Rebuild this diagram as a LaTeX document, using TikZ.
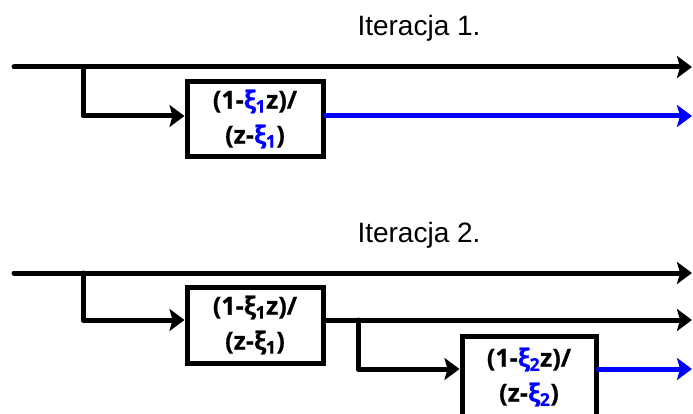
\documentclass[tikz,border=0pt]{standalone}
\usepackage{fontspec}
\setmainfont{Liberation Sans}
\newfontfamily\boxfont[BoldFeatures={FakeBold=0.6}]{Open Sans}
\usetikzlibrary{arrows.meta}
\definecolor{xiblue}{RGB}{0,0,255}
\newcommand{\xisub}[1]{ξ\kern-0.5pt\textsubscript{#1}}
\tikzset{
  wire/.style={line width=5pt, line cap=round, line join=round},
  arr/.style={wire, -{Stealth[length=15pt, width=22pt, inset=3pt]}},
  blk/.style={draw, line width=5pt, minimum width=136pt, align=center,
    font=\boxfont\bfseries\fontsize{25}{35}\selectfont, inner sep=0pt},
  title/.style={font=\fontsize{28}{30}\selectfont}
}
\begin{document}
\begin{tikzpicture}[x=1pt, y=-1pt]
\useasboundingbox (0,0) rectangle (693,414);
% outputs at the right edge
\coordinate (outx) at (692,0);

% first iteration
\node[title] (t1) at (419,28) {Iteracja 1.};
\coordinate (in1) at (14,67);
\coordinate (j1) at (83,67);
\node[blk, minimum height=75pt] (b1) at (255,119)
  {(1-\textcolor{xiblue}{\xisub{1}}z)/\\(z-\textcolor{xiblue}{\xisub{1}})};
\draw[arr] (in1) -- (in1 -| outx);
\draw[arr] (j1) |- ([yshift=3pt]b1.west);
\draw[arr, xiblue] ([yshift=3pt]b1.east) -- ([yshift=3pt]b1.east -| outx);

% second iteration
\node[title] (t2) at (419,235) {Iteracja 2.};
\coordinate (in2) at (14,273);
\coordinate (j2) at (83,273);
\node[blk, minimum height=76pt] (b2) at (255,325)
  {(1-\xisub{1}z)/\\(z-\xisub{1})};
\coordinate (j3) at (358,320);
\node[blk, minimum width=134pt, minimum height=82pt] (b3) at (529,377)
  {(1-\textcolor{xiblue}{\xisub{2}}z)/\\(z-\textcolor{xiblue}{\xisub{2}})};
\draw[arr] (in2) -- (in2 -| outx);
\draw[arr] (j2) |- ([yshift=5pt]b2.west);
\draw[arr] ([yshift=5pt]b2.east) -- ([yshift=5pt]b2.east -| outx);
\draw[arr] (j3) |- ([yshift=8pt]b3.west);
\draw[arr, xiblue] ([yshift=8pt]b3.east) -- ([yshift=8pt]b3.east -| outx);
\end{tikzpicture}
\end{document}
